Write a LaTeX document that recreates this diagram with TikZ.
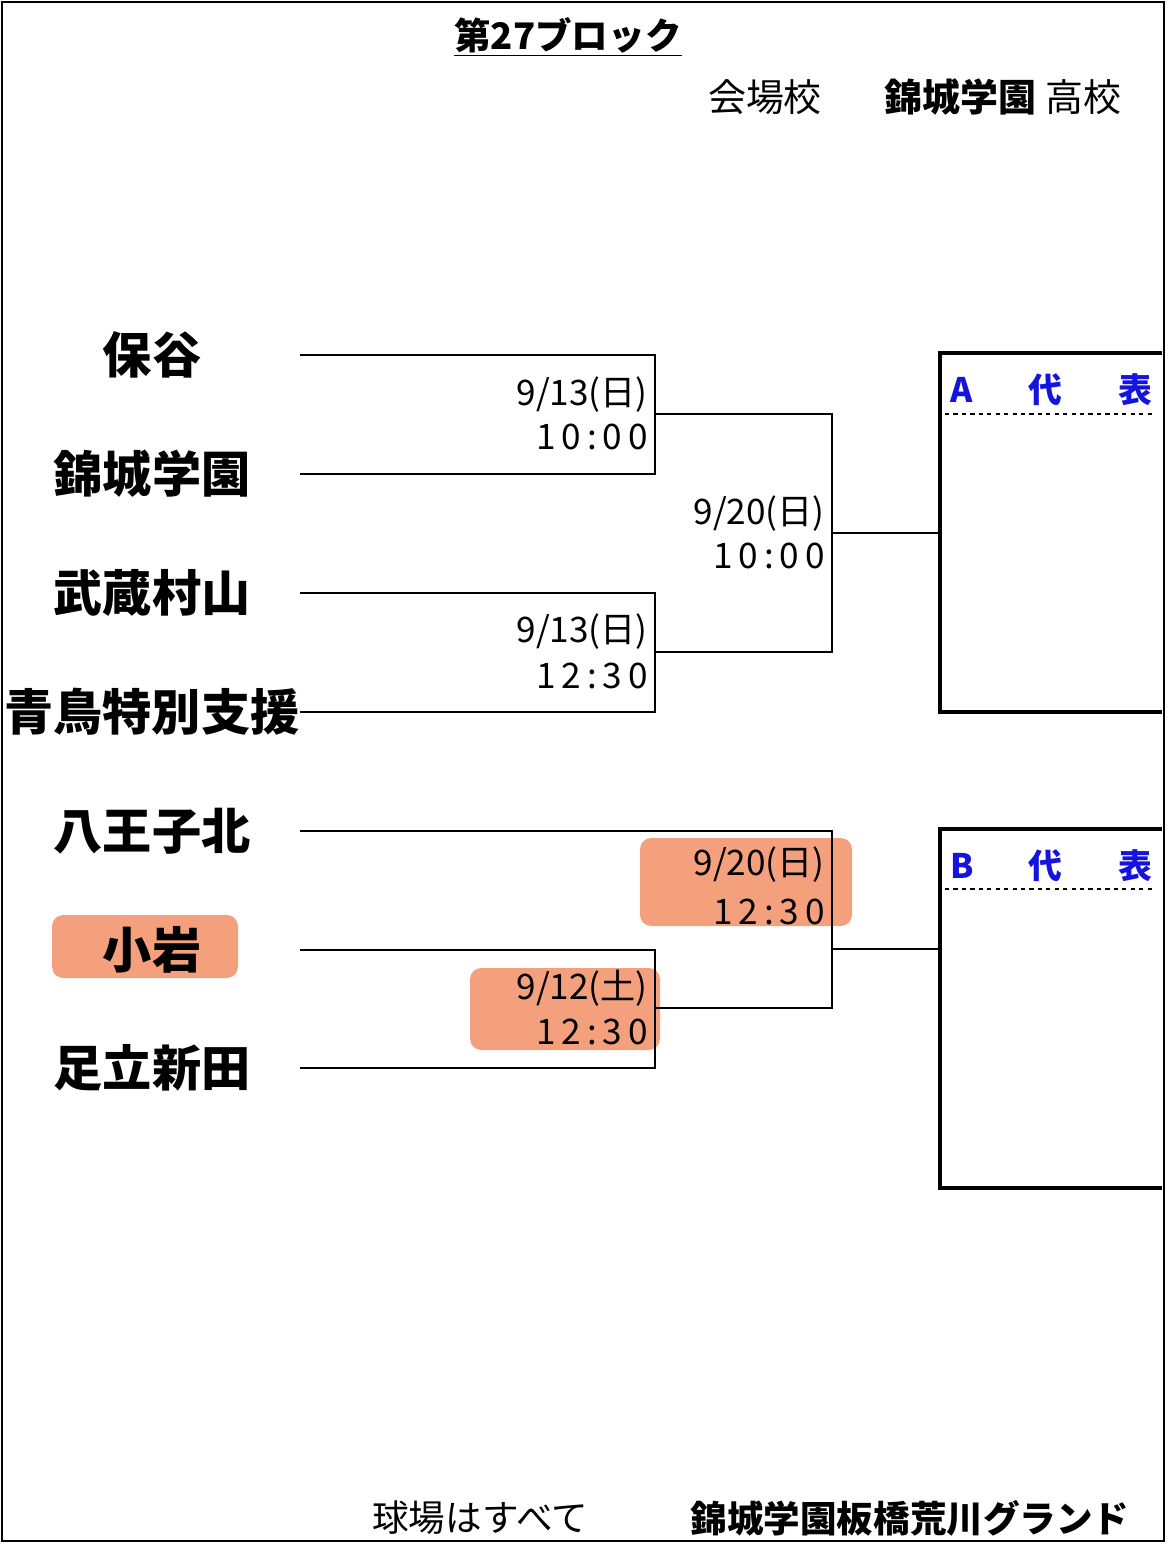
\documentclass[tikz,border=0pt]{standalone}
\usepackage{fontspec}
\setmainfont{Noto Sans CJK JP}
\definecolor{hl}{RGB}{243,150,110}
\definecolor{lbl}{RGB}{20,20,220}
\tikzset{
  team/.style={font=\fontsize{35}{36}\selectfont\bfseries, anchor=center},
  date/.style={font=\fontsize{25}{26}\selectfont, anchor=east, inner sep=0pt},
  line/.style={line width=1.3pt},
  box/.style={line width=3pt},
  hilite/.style={fill=hl, rounded corners=8pt, opacity=0.9},
}
\begin{document}
\begin{tikzpicture}[x=0.025cm,y=-0.025cm]
  \useasboundingbox (0,0) rectangle (1168,1544);
  \draw[line width=2pt] (2,2) rectangle (1164,1541);
  % highlights
  \fill[hilite] (52,915) rectangle (238,978);
  \fill[hilite] (640,838) rectangle (852,926);
  \fill[hilite] (470,968) rectangle (660,1050);
  % title
  \node[font=\fontsize{26}{27}\selectfont\bfseries] (title) at (568,37) {\underline{第27ブロック}};
  \node[font=\fontsize{27}{28}\selectfont] (venue) at (765,97) {会場校};
  \node[font=\fontsize{27}{28}\selectfont, anchor=west] (school) at (880,97) {\textbf{錦城学園} 高校};
  % teams
  \node[team] (t1) at (152,355) {保谷};
  \node[team] (t2) at (152,474) {錦城学園};
  \node[team] (t3) at (152,593) {武蔵村山};
  \node[team] (t4) at (152,712) {青鳥特別支援};
  \node[team] (t5) at (152,831) {八王子北};
  \node[team] (t6) at (152,950) {小岩};
  \node[team] (t7) at (152,1068) {足立新田};
  % bracket points
  \foreach \n/\y in {1/355,2/474,3/593,4/712,6/950,7/1068}
    \coordinate (s\n) at (300,\y);
  \coordinate (s5) at (300,831);
  \coordinate (a1) at (655,355); \coordinate (a2) at (655,474);
  \coordinate (a3) at (655,593); \coordinate (a4) at (655,712);
  \coordinate (a6) at (655,950); \coordinate (a7) at (655,1068);
  \coordinate (m1) at (655,414); \coordinate (m2) at (655,652);
  \coordinate (m3) at (655,1008);
  \coordinate (b1) at (832,414); \coordinate (b2) at (832,652);
  \coordinate (b5) at (832,831); \coordinate (b3) at (832,1008);
  \coordinate (c1) at (832,533); \coordinate (c2) at (832,949);
  \coordinate (d1) at (940,533); \coordinate (d2) at (940,949);
  \draw[line] (s1) -- (a1) -- (a2) -- (s2);
  \draw[line] (s3) -- (a3) -- (a4) -- (s4);
  \draw[line] (s6) -- (a6) -- (a7) -- (s7);
  \draw[line] (m1) -- (b1) -- (b2) -- (m2);
  \draw[line] (s5) -- (b5) -- (b3) -- (m3);
  \draw[line] (c1) -- (d1);
  \draw[line] (c2) -- (d2);
  % dates
  \node[date] (g1a) at (648,395) {9/13(日)};
  \node[date] (g1b) at (648,437) {1\,0\,:\,0\,0};
  \node[date] (g2a) at (648,632) {9/13(日)};
  \node[date] (g2b) at (648,676) {1\,2\,:\,3\,0};
  \node[date] (g3a) at (825,514) {9/20(日)};
  \node[date] (g3b) at (825,556) {1\,0\,:\,0\,0};
  \node[date] (g4a) at (825,865) {9/20(日)};
  \node[date] (g4b) at (825,912) {1\,2\,:\,3\,0};
  \node[date] (g5a) at (648,988) {9/12(土)};
  \node[date] (g5b) at (648,1032) {1\,2\,:\,3\,0};
  % result boxes
  \draw[box] (1162,353) -- (940,353) -- (940,712) -- (1162,712);
  \draw[box] (1162,829) -- (940,829) -- (940,1188) -- (1162,1188);
  \draw[dashed, line width=1.2pt] (945,414) -- (1155,414);
  \draw[dashed, line width=1.2pt] (945,889) -- (1155,889);
  \foreach \t/\y in {A/390,B/866} {
    \node[text=lbl, font=\fontsize{24}{24}\selectfont\bfseries] at (962,\y) {\t};
    \node[text=lbl, font=\fontsize{24}{24}\selectfont\bfseries] at (1045,\y) {代};
    \node[text=lbl, font=\fontsize{24}{24}\selectfont\bfseries] at (1135,\y) {表};
  }
  % footer
  \node[font=\fontsize{26}{27}\selectfont] (foot1) at (480,1518) {球場はすべて};
  \node[font=\fontsize{26}{27}\selectfont\bfseries] (foot2) at (910,1518) {錦城学園板橋荒川グランド};
\end{tikzpicture}
\end{document}
